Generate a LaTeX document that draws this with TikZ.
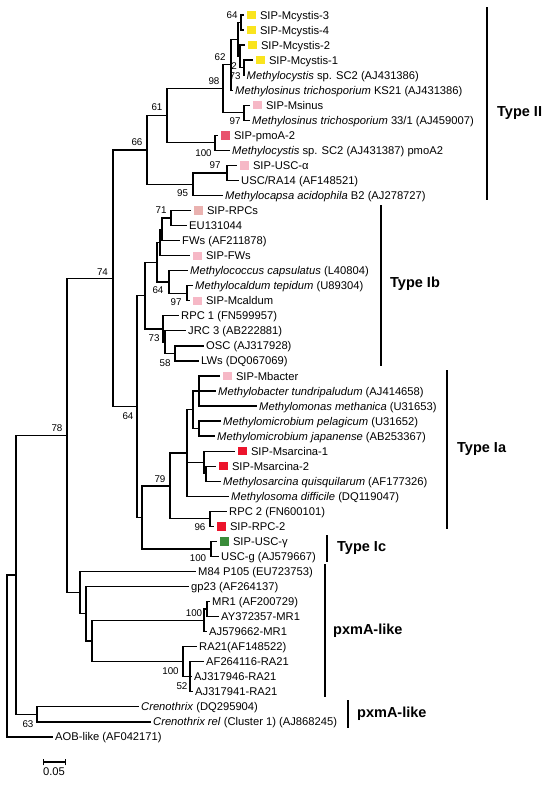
\documentclass[tikz,border=0pt]{standalone}
\usepackage{fontspec}
\setmainfont{Liberation Sans}
\definecolor{ysq}{RGB}{250,228,30}
\definecolor{psq}{RGB}{246,184,198}
\definecolor{rpcsq}{RGB}{234,178,176}
\definecolor{pmosq}{RGB}{232,84,110}
\definecolor{rsq}{RGB}{236,20,44}
\definecolor{gsq}{RGB}{58,140,58}
\newcommand{\sqm}[1]{\hspace{1pt}\textcolor{#1}{\rule[-0.2pt]{8.3pt}{8.3pt}}\hspace{4.5pt}}
\newcommand{\lfnt}{\fontsize{11.2}{13}\selectfont}
\newcommand{\bfnt}{\fontsize{9.8}{11}\selectfont}
\newcommand{\cfnt}{\fontsize{14.5}{17}\selectfont\bfseries}
\begin{document}
\begin{tikzpicture}[x=1pt,y=-1pt,
  leaf/.style={anchor=west, inner xsep=2pt, inner ysep=0pt, text height=8pt, text depth=0pt, font=\lfnt},
  boot/.style={inner sep=0pt, font=\bfnt},
  br/.style={line width=1.25pt},
  clade/.style={anchor=west, inner sep=0pt, font=\cfnt},
  cbar/.style={line width=1.5pt}]
\useasboundingbox[fill=white] (0,0) rectangle (550,788);
% internal nodes
\coordinate (n64) at (241,22.5);
\coordinate (nA) at (244,67.7);
\coordinate (nB) at (240,56.4);
\coordinate (nC) at (238,39.5);
\coordinate (n62) at (231,64.8);
\coordinate (nMsn) at (244,112.75);
\coordinate (n98) at (223,88.8);
\coordinate (nPmo) at (215,142.85);
\coordinate (n61) at (167,115.8);
\coordinate (n97) at (227,172.9);
\coordinate (n95) at (193,184.2);
\coordinate (n66) at (147,150);
\coordinate (n71) at (171,218.05);
\coordinate (nF1) at (162,229.3);
\coordinate (nF) at (160,242.45);
\coordinate (n97b) at (187,293.25);
\coordinate (n64b) at (169,281.95);
\coordinate (nU) at (157,262.2);
\coordinate (nR1) at (165,342.1);
\coordinate (n58) at (175,353.4);
\coordinate (n73) at (163,328.95);
\coordinate (nIb) at (145,295.6);
\coordinate (nMb) at (199,391);
\coordinate (nMm) at (199,428.6);
\coordinate (nM1) at (193,409.8);
\coordinate (nMs2) at (206,473.7);
\coordinate (nMs) at (204,462.45);
\coordinate (nIa) at (187,453.05);
\coordinate (n96) at (210,518.85);
\coordinate (n79) at (170,485.95);
\coordinate (nIc) at (211,548.9);
\coordinate (nIaIc) at (142,517.4);
\coordinate (n64c) at (137,406.5);
\coordinate (n74) at (113,278.25);
\coordinate (nMRa) at (207,609.1);
\coordinate (nMR) at (204,620.35);
\coordinate (nRA2) at (190,676.8);
\coordinate (nRA) at (183,661.75);
\coordinate (nP3) at (92,641.05);
\coordinate (nP2) at (86,613.8);
\coordinate (nP) at (80,592.65);
\coordinate (n78) at (67,435.45);
\coordinate (nCr) at (37,714.35);
\coordinate (nR2) at (16,574.9);
\coordinate (root) at (7,655.9);
% leaves
\node[leaf] (L1) at (244,15.0) {\sqm{ysq}SIP-Mcystis-3};
\node[leaf] (L2) at (244,30.0) {\sqm{ysq}SIP-Mcystis-4};
\node[leaf] (L3) at (245,45.1) {\sqm{ysq}SIP-Mcystis-2};
\node[leaf] (L4) at (253,60.1) {\sqm{ysq}SIP-Mcystis-1};
\node[leaf] (L5) at (244.5,75.2) {\textit{Methylocystis} sp. SC2 (AJ431386)};
\node[leaf] (L6) at (233,90.2) {\textit{Methylosinus trichosporium} KS21 (AJ431386)};
\node[leaf] (L7) at (250,105.2) {\sqm{psq}SIP-Msinus};
\node[leaf] (L8) at (250,120.3) {\textit{Methylosinus trichosporium} 33/1 (AJ459007)};
\node[leaf] (L9) at (218,135.3) {\sqm{pmosq}SIP-pmoA-2};
\node[leaf] (L10) at (230,150.4) {\textit{Methylocystis} sp. SC2 (AJ431387) pmoA2};
\node[leaf] (L11) at (237,165.4) {\sqm{psq}SIP-USC-α};
\node[leaf] (L12) at (239,180.4) {USC/RA14 (AF148521)};
\node[leaf] (L13) at (223,195.5) {\textit{Methylocapsa acidophila} B2 (AJ278727)};
\node[leaf] (L14) at (191,210.5) {\sqm{rpcsq}SIP-RPCs};
\node[leaf] (L15) at (187,225.6) {EU131044};
\node[leaf] (L16) at (180,240.6) {FWs (AF211878)};
\node[leaf] (L17) at (190,255.6) {\sqm{psq}SIP-FWs};
\node[leaf] (L18) at (188,270.7) {\textit{Methylococcus capsulatus} (L40804)};
\node[leaf] (L19) at (193,285.7) {\textit{Methylocaldum tepidum} (U89304)};
\node[leaf] (L20) at (190,300.8) {\sqm{psq}SIP-Mcaldum};
\node[leaf] (L21) at (179,315.8) {RPC 1 (FN599957)};
\node[leaf] (L22) at (186,330.8) {JRC 3 (AB222881)};
\node[leaf] (L23) at (204,345.9) {OSC (AJ317928)};
\node[leaf] (L24) at (199,360.9) {LWs (DQ067069)};
\node[leaf] (L25) at (220,376.0) {\sqm{psq}SIP-Mbacter};
\node[leaf] (L26) at (216,391.0) {\textit{Methylobacter tundripaludum} (AJ414658)};
\node[leaf] (L27) at (257,406.0) {\textit{Methylomonas methanica} (U31653)};
\node[leaf] (L28) at (221,421.1) {\textit{Methylomicrobium pelagicum} (U31652)};
\node[leaf] (L29) at (215,436.1) {\textit{Methylomicrobium japanense} (AB253367)};
\node[leaf] (L30) at (235,451.2) {\sqm{rsq}SIP-Msarcina-1};
\node[leaf] (L31) at (216,466.2) {\sqm{rsq}SIP-Msarcina-2};
\node[leaf] (L32) at (221,481.2) {\textit{Methylosarcina quisquilarum} (AF177326)};
\node[leaf] (L33) at (229,496.3) {\textit{Methylosoma difficile} (DQ119047)};
\node[leaf] (L34) at (227,511.3) {RPC 2 (FN600101)};
\node[leaf] (L35) at (214,526.4) {\sqm{rsq}SIP-RPC-2};
\node[leaf] (L36) at (217,541.4) {\sqm{gsq}SIP-USC-γ};
\node[leaf] (L37) at (219,556.4) {USC-g (AJ579667)};
\node[leaf] (L38) at (196,571.5) {M84 P105 (EU723753)};
\node[leaf] (L39) at (189,586.5) {gp23 (AF264137)};
\node[leaf] (L40) at (210,601.6) {MR1 (AF200729)};
\node[leaf] (L41) at (219,616.6) {AY372357-MR1};
\node[leaf] (L42) at (207,631.6) {AJ579662-MR1};
\node[leaf] (L43) at (197,646.7) {RA21(AF148522)};
\node[leaf] (L44) at (204,661.7) {AF264116-RA21};
\node[leaf] (L45) at (192,676.8) {AJ317946-RA21};
\node[leaf] (L46) at (193,691.8) {AJ317941-RA21};
\node[leaf] (L47) at (139,706.8) {\textit{Crenothrix} (DQ295904)};
\node[leaf] (L48) at (151,721.9) {\textit{Crenothrix rel} (Cluster 1) (AJ868245)};
\node[leaf] (L49) at (53,736.9) {AOB-like (AF042171)};
% branches
\draw[br] (nC) |- (n64) (n64) |- (L1.west) (n64) |- (L2.west);
\draw[br] (nC) |- (nB) (nB) |- (L3.west) (nB) |- (nA) (nA) |- (L4.west) (nA) |- (L5.west);
\draw[br] (n62) |- (nC) (n62) |- (L6.west);
\draw[br] (n98) |- (n62) (n98) |- (nMsn) (nMsn) |- (L7.west) (nMsn) |- (L8.west);
\draw[br] (n61) |- (n98) (n61) |- (nPmo) (nPmo) |- (L9.west) (nPmo) |- (L10.west);
\draw[br] (n95) |- (n97) (n97) |- (L11.west) (n97) |- (L12.west) (n95) |- (L13.west);
\draw[br] (n66) |- (n61) (n66) |- (n95);
\draw[br] (n74) |- (n66) (n74) |- (n64c);
\draw[br] (n64c) |- (nIb) (n64c) |- (nIaIc);
\draw[br] (nIb) |- (nU) (nIb) |- (n73);
\draw[br] (nU) |- (nF) (nU) |- (n64b);
\draw[br] (nF) |- (nF1) (nF) |- (L17.west);
\draw[br] (nF1) |- (n71) (nF1) |- (L16.west);
\draw[br] (n71) |- (L14.west) (n71) |- (L15.west);
\draw[br] (n64b) |- (L18.west) (n64b) |- (n97b);
\draw[br] (n97b) |- (L19.west) (n97b) |- (L20.west);
\draw[br] (n73) |- (L21.west) (n73) |- (nR1);
\draw[br] (nR1) |- (L22.west) (nR1) |- (n58);
\draw[br] (n58) |- (L23.west) (n58) |- (L24.west);
\draw[br] (nIaIc) |- (n79) (nIaIc) |- (nIc);
\draw[br] (n79) |- (nIa) (n79) |- (n96);
\draw[br] (nIa) |- (nM1) (nIa) |- (nMs) (nIa) |- (L33.west);
\draw[br] (nM1) |- (nMb) (nM1) |- (nMm);
\draw[br] (nMb) |- (L25.west) (nMb) |- (L26.west) (nMb) |- (L27.west);
\draw[br] (nMm) |- (L28.west) (nMm) |- (L29.west);
\draw[br] (nMs) |- (L30.west) (nMs) |- (nMs2);
\draw[br] (nMs2) |- (L31.west) (nMs2) |- (L32.west);
\draw[br] (n96) |- (L34.west) (n96) |- (L35.west);
\draw[br] (nIc) |- (L36.west) (nIc) |- (L37.west);
\draw[br] (n78) |- (n74) (n78) |- (nP);
\draw[br] (nP) |- (L38.west) (nP) |- (nP2);
\draw[br] (nP2) |- (L39.west) (nP2) |- (nP3);
\draw[br] (nP3) |- (nMR) (nP3) |- (nRA);
\draw[br] (nMR) |- (nMRa) (nMR) |- (L42.west);
\draw[br] (nMRa) |- (L40.west) (nMRa) |- (L41.west);
\draw[br] (nRA) |- (L43.west) (nRA) |- (nRA2);
\draw[br] (nRA2) |- (L44.west) (nRA2) |- (L45.west) (nRA2) |- (L46.west);
\draw[br] (nR2) |- (n78) (nR2) |- (nCr);
\draw[br] (nCr) |- (L47.west) (nCr) |- (L48.west);
\draw[br] (root) |- (nR2) (root) |- (L49.west);
% bootstrap values
\node[boot] (b1) at (232,15) {64};
\node[boot] (b2) at (234,66.5) {2};
\node[boot] (b3) at (235,76.5) {73};
\node[boot] (b4) at (220,57.5) {62};
\node[boot] (b5) at (214,81) {98};
\node[boot] (b6) at (235,121.5) {97};
\node[boot] (b7) at (157,107) {61};
\node[boot] (b8) at (203.5,153) {100};
\node[boot] (b9) at (215,165) {97};
\node[boot] (b10) at (182.5,193) {95};
\node[boot] (b11) at (137,142) {66};
\node[boot] (b12) at (161,210) {71};
\node[boot] (b13) at (158,290) {64};
\node[boot] (b14) at (176,302) {97};
\node[boot] (b15) at (154,338) {73};
\node[boot] (b16) at (165,363) {58};
\node[boot] (b17) at (102.5,272) {74};
\node[boot] (b18) at (128,416) {64};
\node[boot] (b19) at (160,479) {79};
\node[boot] (b20) at (200,527) {96};
\node[boot] (b21) at (198,558.5) {100};
\node[boot] (b22) at (57,428) {78};
\node[boot] (b23) at (194,613) {100};
\node[boot] (b24) at (170.5,671.5) {100};
\node[boot] (b25) at (182,686) {52};
\node[boot] (b26) at (28,724) {63};
% clade bars
\coordinate (c1t) at (487,7);   \coordinate (c1b) at (487,200);
\coordinate (c2t) at (381,205); \coordinate (c2b) at (381,366);
\coordinate (c3t) at (447,370); \coordinate (c3b) at (447,529);
\coordinate (c4t) at (327,535); \coordinate (c4b) at (327,562);
\coordinate (c5t) at (325,564); \coordinate (c5b) at (325,697);
\coordinate (c6t) at (348,700); \coordinate (c6b) at (348,728);
\draw[cbar] (c1t) -- (c1b);
\draw[cbar] (c2t) -- (c2b);
\draw[cbar] (c3t) -- (c3b);
\draw[cbar] (c4t) -- (c4b);
\draw[cbar] (c5t) -- (c5b);
\draw[cbar] (c6t) -- (c6b);
\node[clade] (k1) at (497,113) {Type II};
\node[clade] (k2) at (390,284) {Type Ib};
\node[clade] (k3) at (457,449) {Type Ia};
\node[clade] (k4) at (337,548) {Type Ic};
\node[clade] (k5) at (333,631) {pxmA-like};
\node[clade] (k6) at (357,714) {pxmA-like};
% scale bar
\coordinate (s1) at (43,762); \coordinate (s2) at (65,762);
\draw[br] (s1) -- (s2);
\draw[line width=1pt] ([yshift=-3.3pt]s1) -- ([yshift=3.3pt]s1);
\draw[line width=1pt] ([yshift=-3.3pt]s2) -- ([yshift=3.3pt]s2);
\node[inner sep=0pt, font=\lfnt] (sl) at (54,772) {0.05};
\end{tikzpicture}
\end{document}
